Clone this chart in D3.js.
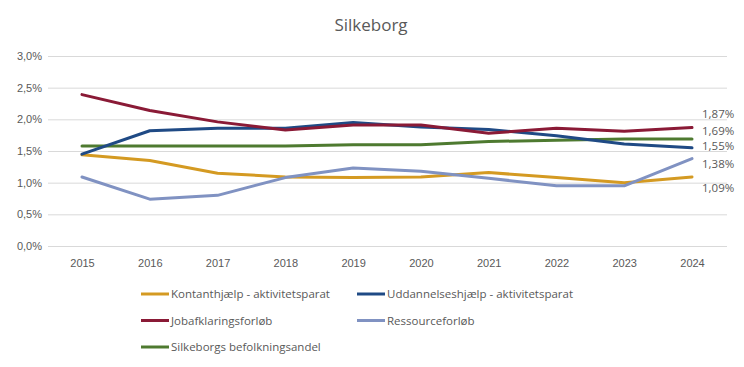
<!DOCTYPE html>
<html>
<head>
<meta charset="utf-8">
<script src="https://cdn.jsdelivr.net/npm/d3@7"></script>
<style>
    body { margin: 0; background: #fff; }
    svg { font-family: "Open Sans", "Liberation Sans", sans-serif; }
</style>
</head>
<body>
<div id="chart"></div>
<script>
var years = [2015, 2016, 2017, 2018, 2019, 2020, 2021, 2022, 2023, 2024];
var yTicks = [0, 0.5, 1.0, 1.5, 2.0, 2.5, 3.0];

var kontanthjaelp = [1.44, 1.35, 1.15, 1.09, 1.08, 1.09, 1.16, 1.08, 1.00, 1.09];
var uddannelseshjaelp = [1.45, 1.82, 1.86, 1.86, 1.95, 1.88, 1.84, 1.74, 1.61, 1.55];
var jobafklaring = [2.39, 2.14, 1.96, 1.83, 1.91, 1.91, 1.78, 1.86, 1.81, 1.87];
var ressource = [1.09, 0.74, 0.80, 1.08, 1.23, 1.18, 1.07, 0.95, 0.95, 1.38];
var befolkning = [1.58, 1.58, 1.58, 1.58, 1.60, 1.60, 1.65, 1.67, 1.69, 1.69];

var seriesNames = ["Kontanthjælp - aktivitetsparat", "Uddannelseshjælp - aktivitetsparat",
    "Jobafklaringsforløb", "Ressourceforløb", "Silkeborgs befolkningsandel"];
var seriesColors = ["#d49a22", "#1f4a85", "#8a1a36", "#8092c2", "#4e7a30"];

// end labels are nudged apart like in the original
var endLabelShift = [11, -2, -14, 5, -8];

var width = 744, height = 367;
var margin = {top: 56, right: 17, bottom: 121, left: 48};

var series = [kontanthjaelp, uddannelseshjaelp, jobafklaring, ressource, befolkning].map(function (v, i) {
    return {name: seriesNames[i], color: seriesColors[i], values: v, shift: endLabelShift[i]};
});

var svg = d3.select("#chart").append("svg")
    .attr("width", width)
    .attr("height", height);

var x = d3.scalePoint()
    .domain(years)
    .range([82, 692]);

var y = d3.scaleLinear()
    .domain([0, 3])
    .range([height - margin.bottom, margin.top]);

svg.append("text")
    .attr("x", 371)
    .attr("y", 31)
    .attr("text-anchor", "middle")
    .style("font-size", "17px")
    .style("fill", "#595959")
    .text("Silkeborg");

var yAxis = svg.append("g")
    .attr("transform", "translate(" + margin.left + ",0)")
    .call(d3.axisLeft(y)
        .tickValues(yTicks)
        .tickSize(-(width - margin.left - margin.right))
        .tickPadding(8)
        .tickFormat(function (d) { return d3.format(".1f")(d).replace(".", ",") + "%"; }));
yAxis.select(".domain").remove();
yAxis.selectAll(".tick line").attr("stroke", "#d9d9d9");
yAxis.selectAll(".tick text")
    .attr("x", -6)
    .style("font-size", "11px")
    .style("fill", "#595959");

var xAxis = svg.append("g")
    .attr("transform", "translate(0," + (height - margin.bottom) + ")")
    .call(d3.axisBottom(x).tickSize(0).tickPadding(13));
xAxis.select(".domain").remove();
xAxis.selectAll(".tick text")
    .style("font-size", "11px")
    .style("fill", "#595959");

var line = d3.line()
    .x(function (d, i) { return x(years[i]); })
    .y(function (d) { return y(d); });

var order = [4, 0, 3, 1, 2];
svg.selectAll(".series")
    .data(order.map(function (i) { return series[i]; }))
    .enter()
    .append("path")
    .attr("class", "series")
    .attr("d", function (d) { return line(d.values); })
    .attr("fill", "none")
    .attr("stroke", function (d) { return d.color; })
    .attr("stroke-width", 3)
    .attr("stroke-linejoin", "round")
    .attr("stroke-linecap", "round");

svg.selectAll(".endlabel")
    .data(series)
    .enter()
    .append("text")
    .attr("class", "endlabel")
    .attr("x", x(years[years.length - 1]) + 10)
    .attr("y", function (d) { return y(d.values[d.values.length - 1]) + d.shift + 4; })
    .style("font-size", "11.5px")
    .style("fill", "#595959")
    .text(function (d) { return d3.format(".2f")(d.values[d.values.length - 1]).replace(".", ",") + "%"; });

var legend = svg.append("g");
var legendItems = legend.selectAll("g")
    .data(series)
    .enter()
    .append("g")
    .attr("transform", function (d, i) {
        return "translate(" + (i % 2 === 0 ? 141 : 357) + "," + (294 + Math.floor(i / 2) * 26.5) + ")";
    });
legendItems.append("line")
    .attr("x1", 0)
    .attr("x2", 28)
    .attr("stroke", function (d) { return d.color; })
    .attr("stroke-width", 3);
legendItems.append("text")
    .attr("x", 30)
    .attr("y", 4)
    .style("font-size", "11.5px")
    .style("fill", "#595959")
    .text(function (d) { return d.name; });
</script>
</body>
</html>
